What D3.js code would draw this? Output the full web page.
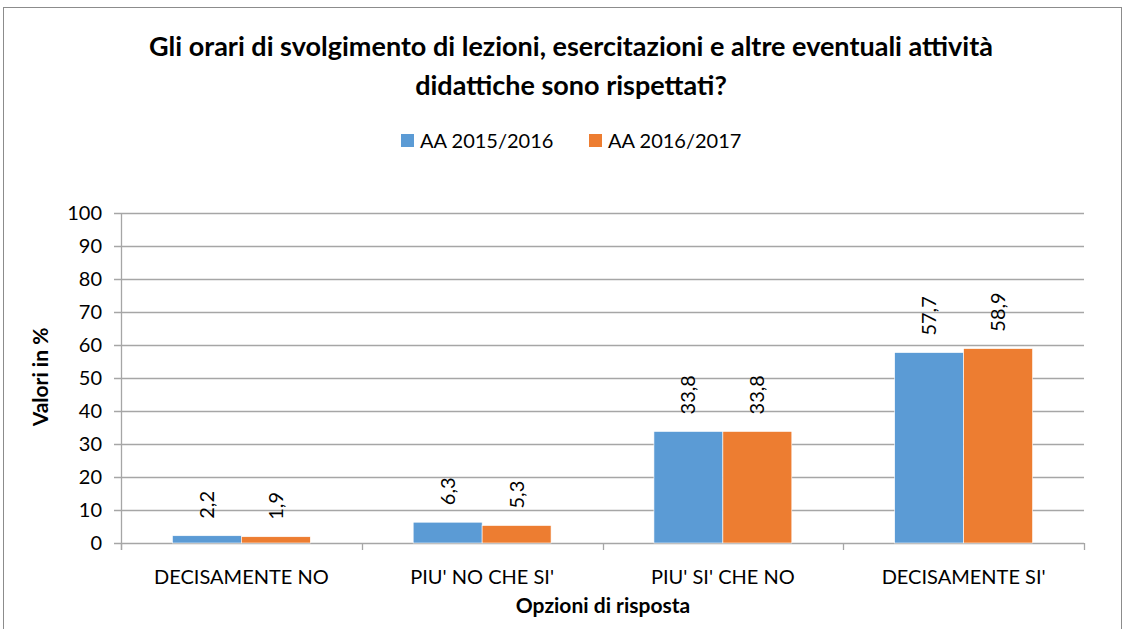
<!DOCTYPE html>
<html>
<head>
<meta charset="utf-8">
<script src="https://cdn.jsdelivr.net/npm/d3@7"></script>
<style>
  body { margin: 0; background: #fff; }
  svg text { font-family: Lato, "Open Sans", sans-serif; fill: #000; }
</style>
</head>
<body>
<svg id="chart" width="1123" height="629"></svg>
<script>
// Data
const categories = ["DECISAMENTE NO", "PIU' NO CHE SI'", "PIU' SI' CHE NO", "DECISAMENTE SI'"];
const seriesNames = ["AA 2015/2016", "AA 2016/2017"];
const values2015 = [2.2, 6.3, 33.8, 57.7];
const values2016 = [1.9, 5.3, 33.8, 58.9];
const yTicks = [0, 10, 20, 30, 40, 50, 60, 70, 80, 90, 100];
const colors = ["#5B9BD5", "#ED7D31"];

const seriesValues = [values2015, values2016];
const data = categories.map((c, i) => ({
  cat: c,
  vals: seriesNames.map((s, j) => ({ series: s, value: seriesValues[j][i], idx: j }))
}));

const svg = d3.select("#chart");

// outer frame
svg.append("rect")
  .attr("x", 3.5).attr("y", 7.5)
  .attr("width", 1118).attr("height", 640)
  .attr("fill", "none").attr("stroke", "#8c8c8c").attr("stroke-width", 1);

const plot = { left: 121, right: 1084, top: 213, bottom: 543 };

const x0 = d3.scaleBand().domain(categories).range([plot.left, plot.right]).padding(0);
const x1 = d3.scaleBand().domain(seriesNames).range([0, x0.bandwidth()]).paddingInner(0).paddingOuter(0.746);
const y = d3.scaleLinear().domain([0, 100]).range([plot.bottom, plot.top]);

// gridlines
svg.append("g")
  .selectAll("line")
  .data(yTicks)
  .enter().append("line")
  .attr("x1", plot.left - 7).attr("x2", plot.right)
  .attr("y1", d => Math.round(y(d)) + 0.5).attr("y2", d => Math.round(y(d)) + 0.5)
  .attr("stroke", "#a6a6a6").attr("stroke-width", 1.3);

// y tick labels
svg.append("g")
  .selectAll("text")
  .data(yTicks)
  .enter().append("text")
  .attr("x", 102).attr("y", d => y(d))
  .attr("dy", "0.36em")
  .attr("text-anchor", "end")
  .attr("font-size", 20)
  .text(d => d);

// bars
const groups = svg.append("g")
  .selectAll("g")
  .data(data)
  .enter().append("g")
  .attr("transform", d => `translate(${x0(d.cat)},0)`);

groups.selectAll("rect")
  .data(d => d.vals)
  .enter().append("rect")
  .attr("x", d => x1(d.series))
  .attr("y", d => y(d.value))
  .attr("width", x1.bandwidth())
  .attr("height", d => y(0) - y(d.value))
  .attr("fill", d => colors[d.idx])
  .attr("stroke", "#fff").attr("stroke-width", 0.6);

// value labels
groups.selectAll("text")
  .data(d => d.vals)
  .enter().append("text")
  .attr("transform", d => `translate(${x1(d.series) + x1.bandwidth() / 2 + 7},${y(d.value) - 17}) rotate(-90)`)
  .attr("text-anchor", "start")
  .attr("font-size", 20)
  .text(d => d.value.toFixed(1).replace(".", ","));

// y axis line
svg.append("line")
  .attr("x1", plot.left + 0.5).attr("x2", plot.left + 0.5)
  .attr("y1", plot.top).attr("y2", plot.bottom + 7)
  .attr("stroke", "#a6a6a6").attr("stroke-width", 1.3);

// x category ticks
const xTickPos = categories.map(c => x0(c)).concat([plot.right]);
svg.append("g")
  .selectAll("line")
  .data(xTickPos)
  .enter().append("line")
  .attr("x1", d => Math.round(d) + 0.5).attr("x2", d => Math.round(d) + 0.5)
  .attr("y1", plot.bottom).attr("y2", plot.bottom + 7)
  .attr("stroke", "#a6a6a6").attr("stroke-width", 1.3);

// category labels
svg.append("g")
  .selectAll("text")
  .data(categories)
  .enter().append("text")
  .attr("x", d => x0(d) + x0.bandwidth() / 2)
  .attr("y", 584)
  .attr("text-anchor", "middle")
  .attr("font-size", 20)
  .text(d => d);

// axis titles
svg.append("text")
  .attr("x", 603).attr("y", 613)
  .attr("text-anchor", "middle")
  .attr("font-size", 21).attr("font-weight", "bold")
  .text("Opzioni di risposta");

svg.append("text")
  .attr("transform", "translate(48,377) rotate(-90)")
  .attr("text-anchor", "middle")
  .attr("font-size", 21).attr("font-weight", "bold")
  .text("Valori in %");

// title
const titleLines = [
  "Gli orari di svolgimento di lezioni, esercitazioni e altre eventuali attività",
  "didattiche sono rispettati?"
];
svg.append("g")
  .selectAll("text")
  .data(titleLines)
  .enter().append("text")
  .attr("x", 571).attr("y", (d, i) => 56 + i * 39)
  .attr("text-anchor", "middle")
  .attr("font-size", 27).attr("font-weight", "bold")
  .text(d => d);

// legend
const legend = svg.append("g");
const legendX = [401, 589];
seriesNames.forEach((s, i) => {
  legend.append("rect")
    .attr("x", legendX[i]).attr("y", 134)
    .attr("width", 13).attr("height", 13)
    .attr("fill", colors[i]);
  legend.append("text")
    .attr("x", legendX[i] + 19).attr("y", 148)
    .attr("font-size", 20)
    .text(s);
});
</script>
</body>
</html>
